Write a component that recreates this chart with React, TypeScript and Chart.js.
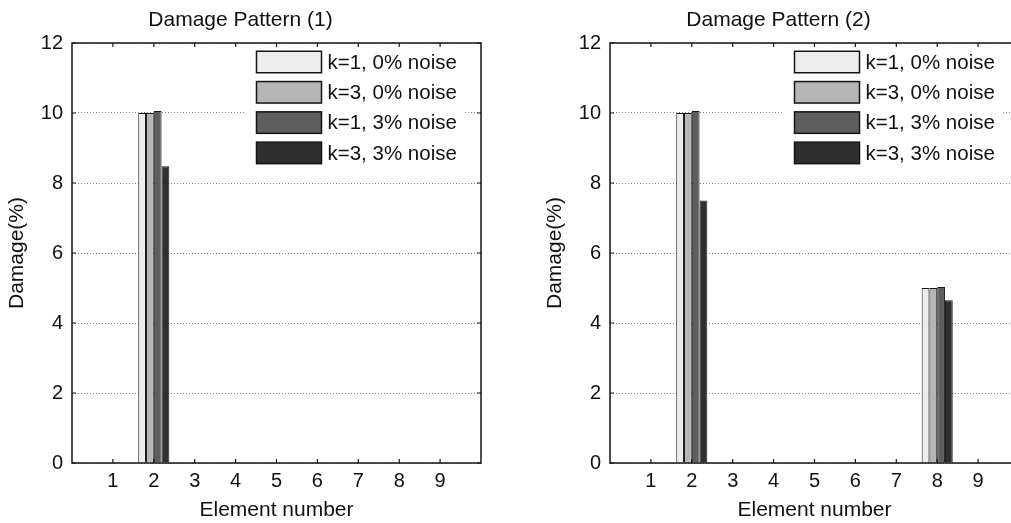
import React, { useEffect, useRef } from 'react';
import { Chart, registerables } from 'chart.js';

Chart.register(...registerables);

const FONT = '"Liberation Sans", Arial, Helvetica, sans-serif';
Chart.defaults.font.family = FONT;
Chart.defaults.color = '#111111';

const ELEMENTS = [1, 2, 3, 4, 5, 6, 7, 8, 9];
const SERIES_LABELS = ['k=1, 0% noise', 'k=3, 0% noise', 'k=1, 3% noise', 'k=3, 3% noise'];
const SERIES_COLORS = ['#ececec', '#b6b6b6', '#5e5e5e', '#2f2f2f'];

// Damage Pattern (1)
const P1_K1_N0 = [0, 10, 0, 0, 0, 0, 0, 0, 0];
const P1_K3_N0 = [0, 10, 0, 0, 0, 0, 0, 0, 0];
const P1_K1_N3 = [0, 10.06, 0, 0, 0, 0, 0, 0, 0];
const P1_K3_N3 = [0, 8.48, 0, 0, 0, 0, 0, 0, 0];

// Damage Pattern (2)
const P2_K1_N0 = [0, 10, 0, 0, 0, 0, 0, 5, 0];
const P2_K3_N0 = [0, 10, 0, 0, 0, 0, 0, 5, 0];
const P2_K1_N3 = [0, 10.06, 0, 0, 0, 0, 0, 5.03, 0];
const P2_K3_N3 = [0, 7.5, 0, 0, 0, 0, 0, 4.65, 0];

const X_TICKS = [1, 2, 3, 4, 5, 6, 7, 8, 9];
const Y_TICKS = [0, 2, 4, 6, 8, 10, 12];

const matlabPlugin = {
  id: 'matlabBox',
  afterDraw(chart: any) {
    const { ctx, chartArea, scales } = chart;
    const { left, right, top, bottom } = chartArea;
    const xs = scales.x;
    const ys = scales.y;
    ctx.save();

    // legend (inside, upper right)
    const bgLeft = left + 172;
    const bgRight = right - 17;
    ctx.fillStyle = '#ffffff';
    ctx.fillRect(bgLeft, top + 1, bgRight - bgLeft, 126);
    const patchX = left + 184.5;
    const patchW = 65;
    const patchH = 21.5;
    ctx.font = `20.5px ${FONT}`;
    ctx.textBaseline = 'middle';
    ctx.textAlign = 'left';
    chart.data.datasets.forEach((ds: any, i: number) => {
      const cy = top + 19 + i * 30.3;
      ctx.fillStyle = ds.backgroundColor;
      ctx.fillRect(patchX, cy - patchH / 2, patchW, patchH);
      ctx.strokeStyle = '#151515';
      ctx.lineWidth = 1.5;
      ctx.strokeRect(patchX, cy - patchH / 2, patchW, patchH);
      ctx.fillStyle = '#111111';
      ctx.fillText(ds.label, patchX + patchW + 6, cy + 1);
    });

    // box
    ctx.strokeStyle = '#151515';
    ctx.lineWidth = 1.5;
    ctx.strokeRect(left, top, right - left, bottom - top);

    // inward tick marks
    ctx.lineWidth = 1.2;
    ctx.beginPath();
    X_TICKS.forEach((v) => {
      const px = xs.getPixelForValue(v);
      ctx.moveTo(px, bottom);
      ctx.lineTo(px, bottom - 4);
      ctx.moveTo(px, top);
      ctx.lineTo(px, top + 4);
    });
    Y_TICKS.forEach((v) => {
      const py = ys.getPixelForValue(v);
      ctx.moveTo(left, py);
      ctx.lineTo(left + 4, py);
      ctx.moveTo(right, py);
      ctx.lineTo(right - 4, py);
    });
    ctx.stroke();
    ctx.restore();
  },
};

function DamageChart({ title, series }: { title: string; series: number[][] }) {
  const ref = useRef<HTMLCanvasElement | null>(null);
  useEffect(() => {
    if (!ref.current) return;
    const chart = new Chart(ref.current, {
      type: 'bar',
      data: {
        labels: ELEMENTS,
        datasets: series.map((d, i) => ({
          label: SERIES_LABELS[i],
          data: d,
          backgroundColor: SERIES_COLORS[i],
          borderColor: '#1a1a1a',
          borderWidth: 1,
          barPercentage: 1,
          categoryPercentage: 0.76,
        })),
      },
      options: {
        responsive: false,
        animation: false,
        devicePixelRatio: 1,
        layout: { padding: { left: 0, right: 24, top: 0, bottom: 0 } },
        plugins: {
          legend: { display: false },
          tooltip: { enabled: false },
          title: {
            display: true,
            text: title,
            color: '#111111',
            font: { size: 21, weight: 'normal', family: FONT },
            padding: { top: 8, bottom: 9.8 },
          },
        },
        scales: {
          x: {
            type: 'linear',
            min: 0,
            max: 10,
            offset: false,
            grid: { display: false, drawTicks: false, tickLength: 0 },
            border: { display: false },
            ticks: {
              stepSize: 1,
              autoSkip: false,
              maxRotation: 0,
              padding: 6,
              font: { size: 20 },
              color: '#111111',
              callback: (v: any) => (X_TICKS.includes(Number(v)) ? String(v) : ''),
            },
            title: {
              display: true,
              text: 'Element number',
              color: '#111111',
              font: { size: 21 },
              padding: { top: 0, bottom: 0.5 },
            },
            afterFit: (s: any) => {
              s.height = 60;
            },
          },
          y: {
            min: 0,
            max: 12,
            grid: { color: '#7e7e7e', lineWidth: 1, drawTicks: false, tickLength: 0 },
            border: { display: false, dash: [1, 2] },
            ticks: {
              stepSize: 2,
              padding: 9,
              font: { size: 20 },
              color: '#111111',
            },
            title: {
              display: true,
              text: 'Damage(%)',
              color: '#111111',
              font: { size: 21 },
              padding: { top: 5, bottom: 0 },
            },
            afterFit: (s: any) => {
              s.width = 72;
            },
          },
        },
      } as any,
      plugins: [matlabPlugin],
    });
    return () => chart.destroy();
  }, [title, series]);
  return <canvas ref={ref} width={505} height={523} style={{ display: 'block', width: 505, height: 523 }} />;
}

const SERIES_1 = [P1_K1_N0, P1_K3_N0, P1_K1_N3, P1_K3_N3];
const SERIES_2 = [P2_K1_N0, P2_K3_N0, P2_K1_N3, P2_K3_N3];

export default function App() {
  return (
    <div
      style={{
        position: 'fixed',
        left: 0,
        top: 0,
        width: 1011,
        height: 523,
        overflow: 'hidden',
        background: '#ffffff',
      }}
    >
      <div style={{ position: 'absolute', left: 0, top: 0 }}>
        <DamageChart title="Damage Pattern (1)" series={SERIES_1} />
      </div>
      <div style={{ position: 'absolute', left: 538, top: 0 }}>
        <DamageChart title="Damage Pattern (2)" series={SERIES_2} />
      </div>
    </div>
  );
}
